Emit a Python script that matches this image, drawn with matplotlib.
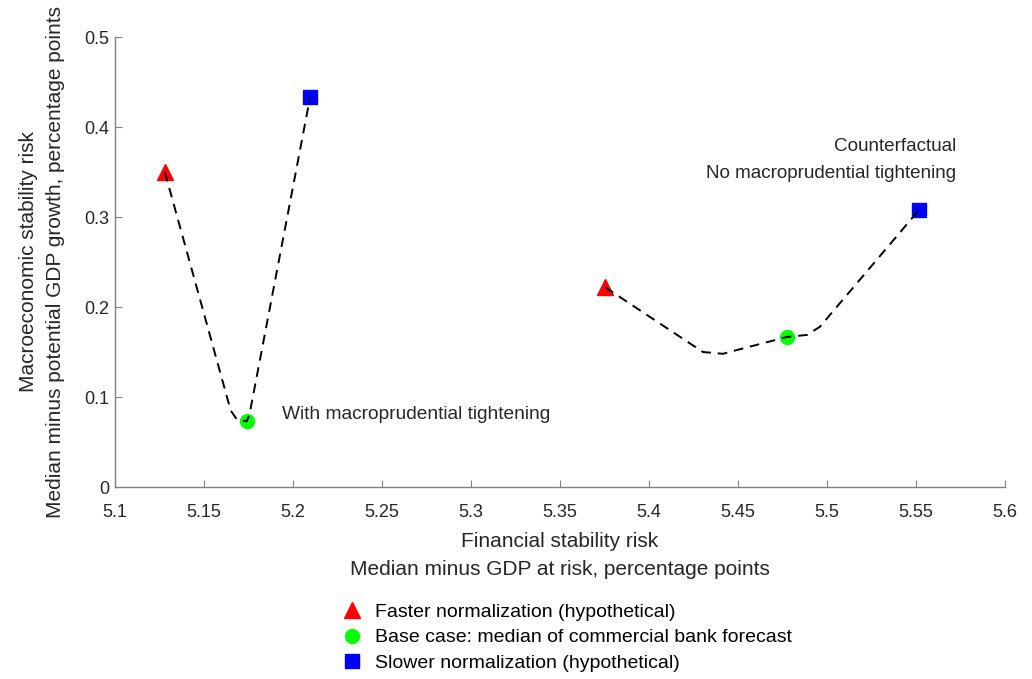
import matplotlib
matplotlib.use("Agg")
import matplotlib.pyplot as plt
from matplotlib.lines import Line2D

plt.rcParams['font.family'] = ['Liberation Sans', 'DejaVu Sans']

# Scenario points: faster, base, slower
with_x = [5.128, 5.174, 5.2096]
with_y = [0.350, 0.073, 0.433]
cf_x = [5.3753, 5.4775, 5.5517]
cf_y = [0.222, 0.1667, 0.3078]

# Dashed connecting paths
with_path_x = [5.128, 5.165, 5.1685, 5.174, 5.1755, 5.2096]
with_path_y = [0.350, 0.085, 0.075, 0.073, 0.080, 0.433]
cf_path_x = [5.3753, 5.4303, 5.4416, 5.449, 5.4775, 5.4888, 5.496, 5.5517]
cf_path_y = [0.222, 0.150, 0.148, 0.152, 0.1667, 0.169, 0.178, 0.3078]

xticks = [5.1, 5.15, 5.2, 5.25, 5.3, 5.35, 5.4, 5.45, 5.5, 5.55, 5.6]
xticklabels = ['5.1', '5.15', '5.2', '5.25', '5.3', '5.35', '5.4', '5.45', '5.5', '5.55', '5.6']
yticks = [0, 0.1, 0.2, 0.3, 0.4, 0.5]
yticklabels = ['0', '0.1', '0.2', '0.3', '0.4', '0.5']

legend_labels = ['Faster normalization (hypothetical)',
                 'Base case: median of commercial bank forecast',
                 'Slower normalization (hypothetical)']

fig = plt.figure(figsize=(10.32, 6.79), dpi=100)
ax = fig.add_axes([115/1032, 1 - 487/679, 890/1032, 450/679])

markers = ['^', 'o', 's']
colors = ['#ff0000', '#00ff00', '#0000ff']
msizes = [12, 10, 10]

for xs, ys in [(with_x, with_y), (cf_x, cf_y)]:
    for i in range(3):
        ax.plot(xs[i], ys[i], marker=markers[i], color=colors[i], ms=msizes[i],
                mec=colors[i], ls='none', zorder=2)

for px, py in [(with_path_x, with_path_y), (cf_path_x, cf_path_y)]:
    ax.plot(px, py, color='black', ls=(0, (5, 3.5)), lw=1.4, zorder=3)

ax.set_xlim(5.1, 5.6)
ax.set_ylim(0, 0.5)
ax.set_xticks(xticks)
ax.set_xticklabels(xticklabels)
ax.set_yticks(yticks)
ax.set_yticklabels(yticklabels)
ax.tick_params(direction='in', length=5, width=0.8, colors='#808080',
               labelcolor='#262626', labelsize=13)
ax.tick_params(axis='x', pad=12)
ax.tick_params(axis='y', pad=4)
for s in ['top', 'right']:
    ax.spines[s].set_visible(False)
for s in ['left', 'bottom']:
    ax.spines[s].set_color('#808080')
    ax.spines[s].set_linewidth(1.0)

ax.set_xlabel('Financial stability risk\nMedian minus GDP at risk, percentage points',
              fontsize=15, color='#262626', linespacing=1.6, labelpad=8)
ax.set_ylabel('Macroeconomic stability risk\nMedian minus potential GDP growth, percentage points',
              fontsize=15, color='#262626', linespacing=1.5, labelpad=14)

ax.text(5.194, 0.081, 'With macroprudential tightening', fontsize=13.8,
        color='#262626', ha='left', va='center')
ax.text(5.5725, 0.378, 'Counterfactual', fontsize=13.6, color='#262626',
        ha='right', va='center')
ax.text(5.5725, 0.348, 'No macroprudential tightening', fontsize=13.6,
        color='#262626', ha='right', va='center')

handles = [Line2D([], [], marker=markers[i], color=colors[i], mec=colors[i],
                  ms=msizes[i], ls='none') for i in range(3)]
fig.legend(handles, legend_labels, loc='upper left',
           bbox_to_anchor=(337/1032, 1 - 603/679), frameon=False,
           fontsize=14, labelspacing=0.42, handletextpad=0.45,
           handlelength=1.5, borderaxespad=0, borderpad=0)

fig.savefig('out.png', dpi=100)
